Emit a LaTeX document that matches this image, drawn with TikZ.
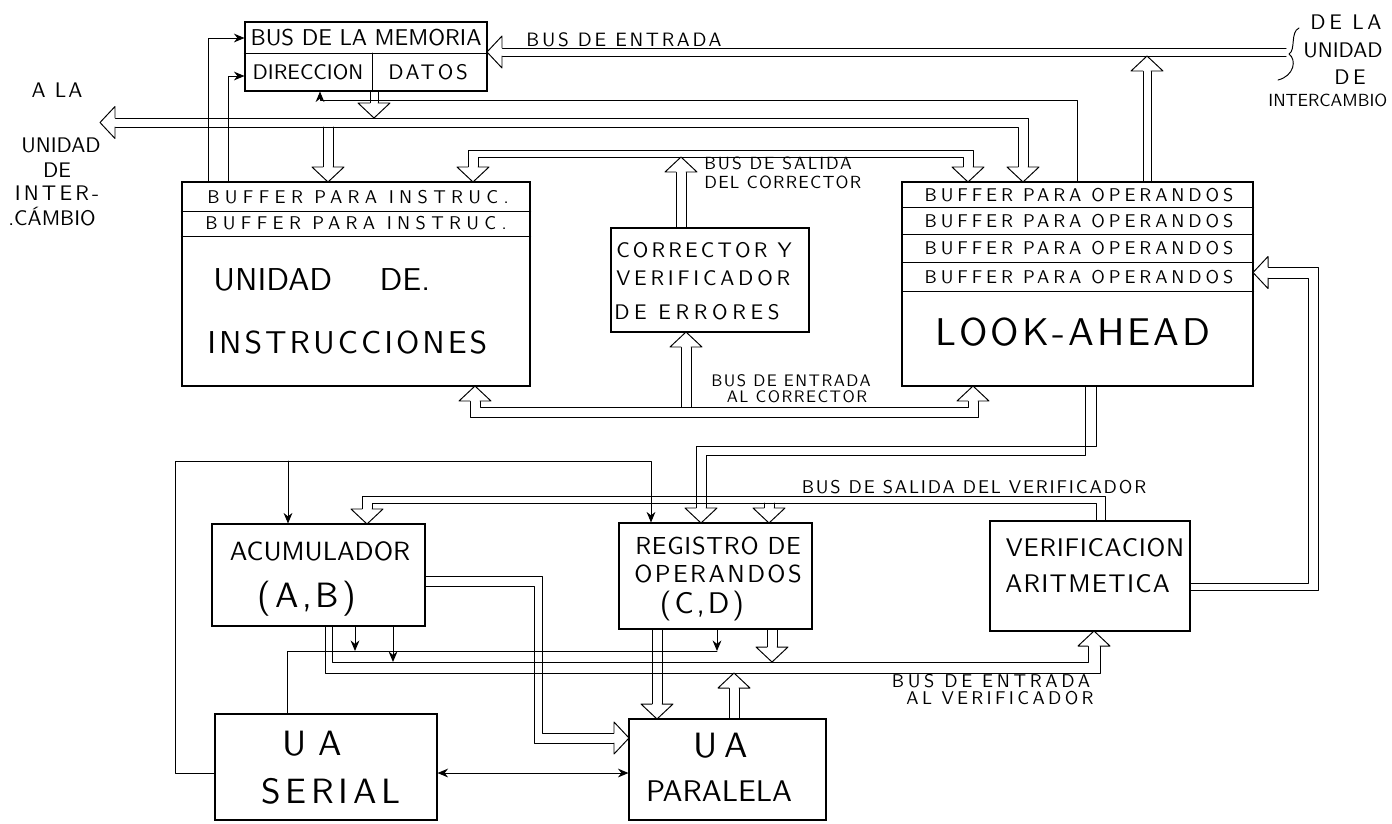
\documentclass[tikz,border=0pt]{standalone}
\usepackage{fontspec}
\newfontfamily\handfont{lmsans10-regular.otf}
\usetikzlibrary{arrows.meta,fit}
\newcommand\bushead[4]{\begin{scope}[shift={(#1,#2)},rotate=#3]\draw[ln,fill=white] (-15,-#4) -- (-15,-16) -- (0,0) -- (-15,16) -- (-15,#4);\end{scope}}
\begin{document}
\begin{tikzpicture}[x=0.02cm,y=-0.02cm,
  ln/.style={line width=0.55pt,line cap=round,line join=round},
  blk/.style={draw,line width=0.6pt,inner sep=0pt},
  sa/.style={-{Stealth[length=6pt,width=5pt]}},
  hand/.style 2 args={font=\handfont\fontsize{#1}{#1}\selectfont\addfontfeature{LetterSpace=#2},inner sep=0pt}]
\fill[white] (0,0) rectangle (1392,823);
\useasboundingbox (0,0) rectangle (1392,823);

% ---------- boxes ----------
\node[blk,fit={(245,22)(487,91)}] (mem) {};
\draw[ln] (mem.west |- 0,53) -- (mem.east |- 0,53);
\draw[ln] (372,53) -- (372,0 |- mem.south);
\node[hand={13}{0}] (tmem) at (366,38) {BUS DE LA MEMORIA};
\node[hand={12}{0}] (tdir) at (308,72) {DIRECCION};
\node[hand={12}{13}] (tdat) at (428,72) {DATOS};

\node[blk,fit={(182,182)(530,386)}] (instr) {};
\draw[ln] (instr.west |- 0,211) -- (instr.east |- 0,211);
\draw[ln] (instr.west |- 0,236) -- (instr.east |- 0,236);
\node[hand={10.5}{29}] (ib1) at (358,197) {BUFFER PARA INSTRUC.};
\node[hand={10.5}{29}] (ib2) at (356,223) {BUFFER PARA INSTRUC.};
\node[hand={18}{0},anchor=west] (iu) at (213,280) {UNIDAD\hspace{27pt}DE.};
\node[hand={18}{9.5},anchor=west] (ii) at (207,343) {INSTRUCCIONES};

\node[blk,fit={(611,228)(809,332)}] (corr) {};
\node[hand={12}{15},anchor=west] (c1) at (616,250) {CORRECTOR Y};
\node[hand={12}{18},anchor=west] (c2) at (616,278) {VERIFICADOR};
\node[hand={12}{22},anchor=west] (c3) at (614,312) {DE ERRORES};

\node[blk,fit={(902,182)(1253,386)}] (look) {};
\foreach \yy in {207,234,262,291} \draw[ln] (look.west |- 0,\yy) -- (look.east |- 0,\yy);
\node[hand={10.5}{21}] (lb1) at (1079,195) {BUFFER PARA OPERANDOS};
\node[hand={10.5}{21}] (lb2) at (1079,221) {BUFFER PARA OPERANDOS};
\node[hand={10.5}{21}] (lb3) at (1079,248) {BUFFER PARA OPERANDOS};
\node[hand={10.5}{21}] (lb4) at (1079,277) {BUFFER PARA OPERANDOS};
\node[hand={22}{8}] (tla) at (1073,332) {LOOK-AHEAD};

\node[blk,fit={(212,524)(425,626)}] (acum) {};
\node[hand={15}{0}] (ta1) at (320,551) {ACUMULADOR};
\node[hand={20}{10}] (ta2) at (307,599) {(A,B)};

\node[blk,fit={(619,523)(812,629)}] (reg) {};
\node[hand={14}{3}] (tr1) at (718,546) {REGISTRO DE};
\node[hand={14}{10}] (tr2) at (718,574) {OPERANDOS};
\node[hand={17}{10}] (tr3) at (702,606) {(C,D)};

\node[blk,fit={(990,521)(1190,631)}] (verif) {};
\node[hand={14.5}{3}] (tv1) at (1095,548) {VERIFICACION};
\node[hand={14.5}{5},anchor=west] (tv2) at (1005,584) {ARITMETICA};

\node[blk,fit={(215,714)(437,820)}] (uas) {};
\node[hand={20}{0}] (ts1) at (312,744) {U A};
\node[hand={20}{13}] (ts2) at (331,791) {SERIAL};

\node[blk,fit={(629,719)(826,820)}] (uap) {};
\node[hand={20}{20}] (tp1) at (721,746) {UA};
\node[hand={17}{0}] (tp2) at (719,791) {PARALELA};

% ---------- free labels ----------
\node[hand={11}{14}] (tent) at (624,40) {BUS DE ENTRADA};
\node[hand={12}{10}] (la1) at (57,90) {A LA};
\node[hand={12}{0}] (la2) at (61,145) {UNIDAD};
\node[hand={12}{0}] (la3) at (57,170) {DE};
\node[hand={12}{15}] (la4) at (57,193) {INTER-};
\node[hand={12}{0}] (la5) at (52,217) {.CÁMBIO};
\node[hand={12}{17}] (ra1) at (1346,22) {DE LA};
\node[hand={12}{0},anchor=west] (ra2) at (1303,50) {UNIDAD};
\node[hand={12}{17}] (ra3) at (1350,77) {DE};
\node[hand={10}{0},anchor=west] (ra4) at (1268,100) {INTERCAMBIO};
\draw[ln] (1299,28) .. controls (1290,32) and (1296,50) .. (1289,54) .. controls (1297,60) and (1294,76) .. (1278,80);
\node[hand={10}{11},anchor=west] (bsc1) at (704,163) {BUS DE SALIDA};
\node[hand={10}{7},anchor=west] (bsc2) at (704,182) {DEL CORRECTOR};
\node[hand={9.5}{9}] (bec1) at (791,381) {BUS DE ENTRADA};
\node[hand={9.5}{9}] (bec2) at (797,397) {AL CORRECTOR};
\node[hand={10.5}{10}] (bsv) at (974,487) {BUS DE SALIDA DEL VERIFICADOR};
\node[hand={10.5}{20}] (bev1) at (991,681) {BUS DE ENTRADA};
\node[hand={10.5}{18}] (bev2) at (1000,698) {AL VERIFICADOR};

% ---------- top connectors ----------
\draw[ln,sa] (208,0 |- instr.north) |- (mem.west |- 0,38);
\draw[ln,sa] (228,0 |- instr.north) |- (mem.west |- 0,76);
% memory data -> long bus
\draw[ln] (370,0 |- mem.south) -- (370,103) (378,0 |- mem.south) -- (378,103);
\bushead{374}{118}{-90}{4}
% long bus (a la unidad de intercambio)
\draw[ln] (115,118) -- (1028,118) -- (1028,167);
\draw[ln] (115,127) -- (1018,127) -- (1018,167);
\bushead{100}{122.5}{180}{4.5}
\bushead{1023}{182}{-90}{5}
\draw[ln] (323,127) -- (323,167) (333,127) -- (333,167);
\bushead{328}{182}{-90}{5}
% look-ahead -> memory address
\draw[ln,sa] (1077,0 |- look.north) -- (1077,100) -- (320,100) -- (320,0 |- mem.south);
% bus de entrada
\draw[ln] (502,48) -- (1286,48) (502,56) -- (1286,56);
\bushead{487}{52}{180}{4}
\draw[ln] (1143,0 |- look.north) -- (1143,71) (1151,0 |- look.north) -- (1151,71);
\bushead{1147}{56}{90}{4}
% bus de salida del corrector
\draw[ln] (468,167) -- (468,150) -- (973,150) -- (973,167);
\draw[ln] (478,167) -- (478,157) -- (963,157) -- (963,167);
\bushead{473}{182}{-90}{5}
\bushead{968}{182}{-90}{5}
\draw[ln] (676,0 |- corr.north) -- (676,172) (686,0 |- corr.north) -- (686,172);
\bushead{681}{157}{90}{5}
% bus de entrada al corrector
\draw[ln] (470,401) -- (470,417) -- (978,417) -- (978,401);
\draw[ln] (480,401) -- (480,407) -- (968,407) -- (968,401);
\bushead{475}{386}{90}{5}
\bushead{973}{386}{90}{5}
\draw[ln] (681,407) -- (681,347) (691,407) -- (691,347);
\bushead{686}{332}{90}{5}

% ---------- lower connectors ----------
\draw[ln,sa] (uas.west |- 0,773) -- (175,773) -- (175,461) -- (651,461) -- (651,0 |- reg.north);
\draw[ln,sa] (288,461) -- (288,0 |- acum.north);
% bus de salida del verificador
\draw[ln] (1105,0 |- verif.north) -- (1105,496) -- (362,496) -- (362,509);
\draw[ln] (1096,0 |- verif.north) -- (1096,503) -- (372,503) -- (372,509);
\bushead{367}{524}{-90}{5}
\draw[ln] (764,503) -- (764,508) (774,503) -- (774,508);
\bushead{769}{523}{-90}{5}
% look-ahead -> registro
\draw[ln] (1096,0 |- look.south) -- (1096,446) -- (696,446) -- (696,508);
\draw[ln] (1085,0 |- look.south) -- (1085,455) -- (706,455) -- (706,508);
\bushead{701}{523}{-90}{5}
% acumulador -> UA paralela
\draw[ln] (acum.east |- 0,576) -- (542,576) -- (542,733) -- (614,733);
\draw[ln] (acum.east |- 0,586) -- (534,586) -- (534,743) -- (614,743);
\bushead{629}{738}{0}{5}
% serial <-> paralela
\draw[ln,{Stealth[length=6pt,width=5pt]}-{Stealth[length=6pt,width=5pt]}] (uas.east |- 0,773) -- (uap.west |- 0,773);
% bus de entrada al verificador
\draw[ln] (325,0 |- acum.south) -- (325,673) -- (1100,673) -- (1100,646);
\draw[ln] (332,0 |- acum.south) -- (332,662) -- (1088,662) -- (1088,646);
\bushead{1094}{631}{90}{6}
% line to UA serial
\draw[ln] (287,0 |- uas.north) -- (287,651) -- (717,651);
\draw[ln,sa] (355,0 |- acum.south) -- (355,651);
\draw[ln,sa] (393,0 |- acum.south) -- (393,662);
\draw[ln,sa] (717,0 |- reg.south) -- (717,651);
% registro -> UA paralela
\draw[ln] (652,0 |- reg.south) -- (652,704) (662,0 |- reg.south) -- (662,704);
\bushead{657}{719}{-90}{5}
% registro -> bus verificador
\draw[ln] (767,0 |- reg.south) -- (767,647) (777,0 |- reg.south) -- (777,647);
\bushead{772}{662}{-90}{5}
% UA paralela -> bus verificador
\draw[ln] (729,0 |- uap.north) -- (729,688) (739,0 |- uap.north) -- (739,688);
\bushead{734}{673}{90}{5}
% verificacion -> look-ahead
\draw[ln] (verif.east |- 0,590) -- (1318,590) -- (1318,267) -- (1268,267);
\draw[ln] (verif.east |- 0,583) -- (1308,583) -- (1308,278) -- (1268,278);
\bushead{1253}{272.5}{180}{5.5}
\end{tikzpicture}
\end{document}
